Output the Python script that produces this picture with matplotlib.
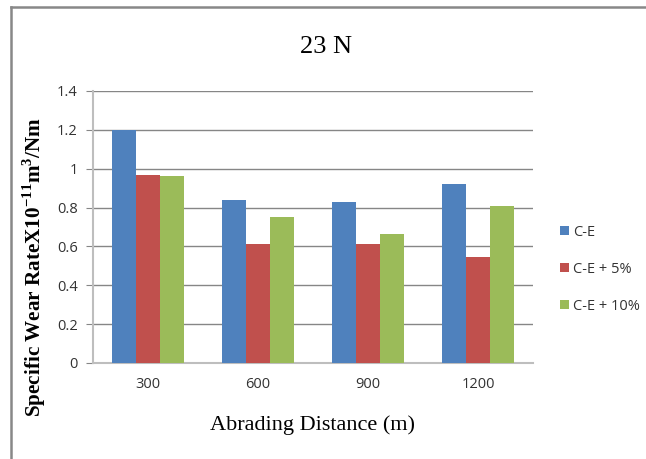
import matplotlib
matplotlib.use("Agg")
import matplotlib.pyplot as plt
import numpy as np
from matplotlib.lines import Line2D

categories = ["300", "600", "900", "1200"]
series_names = ["C-E", "C-E + 5%", "C-E + 10%"]
ce = [1.20, 0.84, 0.83, 0.92]
ce5 = [0.97, 0.615, 0.61, 0.545]
ce10 = [0.96, 0.75, 0.665, 0.81]
colors = ["#4F81BD", "#C0504D", "#9BBB59"]

fig = plt.figure(figsize=(6.46, 4.59), dpi=100)
bx, by = 10.5 / 646, 1 - 6.5 / 459
fig.add_artist(Line2D([bx, 1.05], [by, by], transform=fig.transFigure, color="#888888", linewidth=1.8))
fig.add_artist(Line2D([bx, bx], [-0.05, by], transform=fig.transFigure, color="#888888", linewidth=1.8))

ax = fig.add_axes([93/646, 1-363/459, 440/646, 272/459])
x = np.arange(len(categories))
w = 0.22
for i, (vals, name, c) in enumerate(zip([ce, ce5, ce10], series_names, colors)):
    ax.bar(x + (i - 1) * w, vals, width=w, color=c, label=name, zorder=3)

ax.set_xlim(-0.5, 3.5)
ax.set_ylim(0, 1.4)
ax.set_yticks(np.arange(0, 1.41, 0.2))
ax.set_yticklabels(["0", "0.2", "0.4", "0.6", "0.8", "1", "1.2", "1.4"])
ax.set_xticks(x)
ax.set_xticklabels(categories)
ax.grid(axis="y", color="#868686", linewidth=1.0, zorder=0)
for s in ["top", "right"]:
    ax.spines[s].set_visible(False)
ax.spines["left"].set_color("#BEBEBE")
ax.spines["left"].set_linewidth(1.5)
ax.spines["bottom"].set_color("#BEBEBE")
ax.spines["bottom"].set_linewidth(1.5)
ax.tick_params(axis="y", length=5, color="#868686", labelsize=10.5, labelcolor="#333333", pad=6)
ax.tick_params(axis="x", length=0, labelsize=10.5, labelcolor="#333333", pad=10)
for t in ax.get_xticklabels() + ax.get_yticklabels():
    t.set_family(["Open Sans", "DejaVu Sans"])

fig.text(326 / 646, 1 - 47/459, "23 N", ha="center", va="center",
         fontsize=19, family="Liberation Serif")
ax.set_xlabel("Abrading Distance (m)", fontsize=16, family="Liberation Serif", labelpad=17)
ax.set_ylabel("Specific Wear RateX10$^{\\mathregular{-11}}$m$^{\\mathregular{3}}$/Nm", fontsize=15.2,
              family="Liberation Serif", fontweight="bold")
ax.yaxis.set_label_coords(-(93 - 48) / 440, (363 - 267) / 272)

leg = ax.legend(loc="upper left", bbox_to_anchor=(554/646, 1 - 219/459), bbox_transform=fig.transFigure,
                frameon=False, fontsize=10.5, handlelength=0.6, handleheight=0.6,
                handletextpad=0.3, labelspacing=1.5, borderaxespad=0)
for t in leg.get_texts():
    t.set_family(["Open Sans", "DejaVu Sans"])
    t.set_color("#333333")

fig.savefig("out.png", dpi=100)
